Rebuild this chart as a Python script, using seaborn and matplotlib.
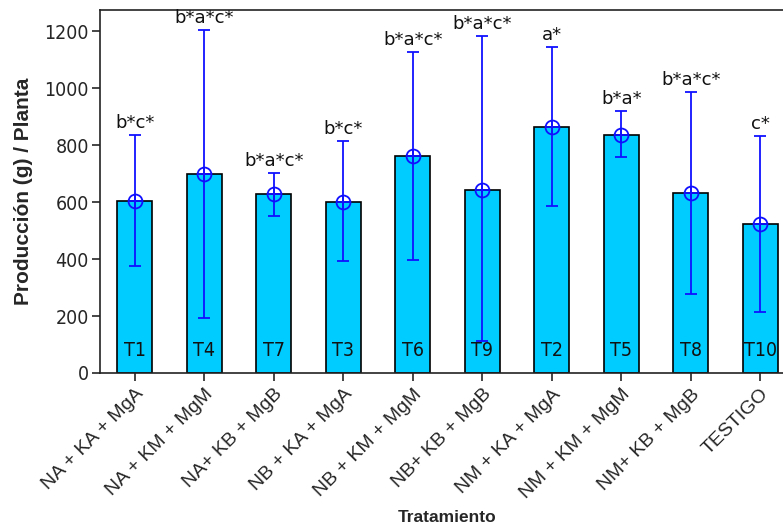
import matplotlib
matplotlib.use("Agg")
import matplotlib.pyplot as plt
import seaborn as sns
import pandas as pd
import numpy as np

treatments = ["NA + KA + MgA", "NA + KM + MgM", "NA+ KB + MgB", "NB + KA + MgA",
              "NB + KM + MgM", "NB+ KB + MgB", "NM + KA + MgA", "NM + KM + MgM",
              "NM+ KB + MgB", "TESTIGO"]
codes = ["T1", "T4", "T7", "T3", "T6", "T9", "T2", "T5", "T8", "T10"]
means = [605, 698, 629, 600, 762, 643, 864, 837, 633, 525]
lower = [376, 194, 552, 392, 396, 111, 585, 757, 279, 214]
upper = [837, 1204, 704, 816, 1128, 1183, 1145, 922, 988, 833]
letters = ["b*c*", "b*a*c*", "b*a*c*", "b*c*", "b*a*c*", "b*a*c*", "a*", "b*a*", "b*a*c*", "c*"]

sns.set_theme(style="white")
plt.rcParams["font.family"] = ["DejaVu Sans"]
plt.rcParams["font.stretch"] = "condensed"
arial = ["Liberation Sans", "DejaVu Sans"]

df = pd.DataFrame({"Tratamiento": treatments, "Produccion": means})

fig = plt.figure(figsize=(7.83, 5.29), dpi=100)
ax = fig.add_axes([100/783, 156/529, 695/783, 363/529])

sns.barplot(data=df, x="Tratamiento", y="Produccion", order=treatments,
            color="#00CCFF", saturation=1, width=0.5, edgecolor="black",
            linewidth=1.2, errorbar=None, ax=ax)

xs = np.arange(len(treatments))
m = np.array(means)
err = np.vstack([m - np.array(lower), np.array(upper) - m])
blue = "#1010ff"
ax.errorbar(xs, m, yerr=err, fmt="none", ecolor=blue, elinewidth=1.3,
            capsize=4.5, capthick=1.3, zorder=5)
ax.plot(xs, m, linestyle="none", marker="o", markersize=10, markerfacecolor="none",
        markeredgecolor=blue, markeredgewidth=1.3, zorder=6)
ax.plot(xs, m, linestyle="none", marker="+", markersize=10,
        markeredgecolor=blue, markeredgewidth=1.3, zorder=6)

for x, u, lab in zip(xs, upper, letters):
    ax.annotate(lab, (x, u), xytext=(0, 2), textcoords="offset points",
                ha="center", va="bottom", fontsize=13, stretch="normal",
                color="#111111")
for x, c in zip(xs, codes):
    ax.text(x, 45, c, ha="center", va="bottom", fontsize=14, color="#111111")

ax.set_xlim(-0.5, 9.5)
ax.set_ylim(0, 1275)
ax.set_yticks([0, 200, 400, 600, 800, 1000, 1200])
ax.tick_params(axis="y", labelsize=14, length=6, width=1.2, direction="out", left=True, pad=2)
ax.tick_params(axis="x", length=6, width=1.2, direction="out", bottom=True, pad=3)
ax.set_xticks(xs)
ax.set_xticklabels(treatments, rotation=45, ha="right", rotation_mode="anchor",
                   fontsize=14, family=arial, stretch="normal")
for sp in ["left", "bottom", "top", "right"]:
    ax.spines[sp].set_color("#222222")
    ax.spines[sp].set_linewidth(1.2)

ax.set_ylabel("Producción (g) / Planta", fontsize=15, fontweight="bold",
              family=arial, stretch="normal", labelpad=8)
ax.set_xlabel("Tratamiento", fontsize=12.5, fontweight="bold",
              family=arial, stretch="normal", labelpad=6)

fig.savefig("out.png", dpi=100)
